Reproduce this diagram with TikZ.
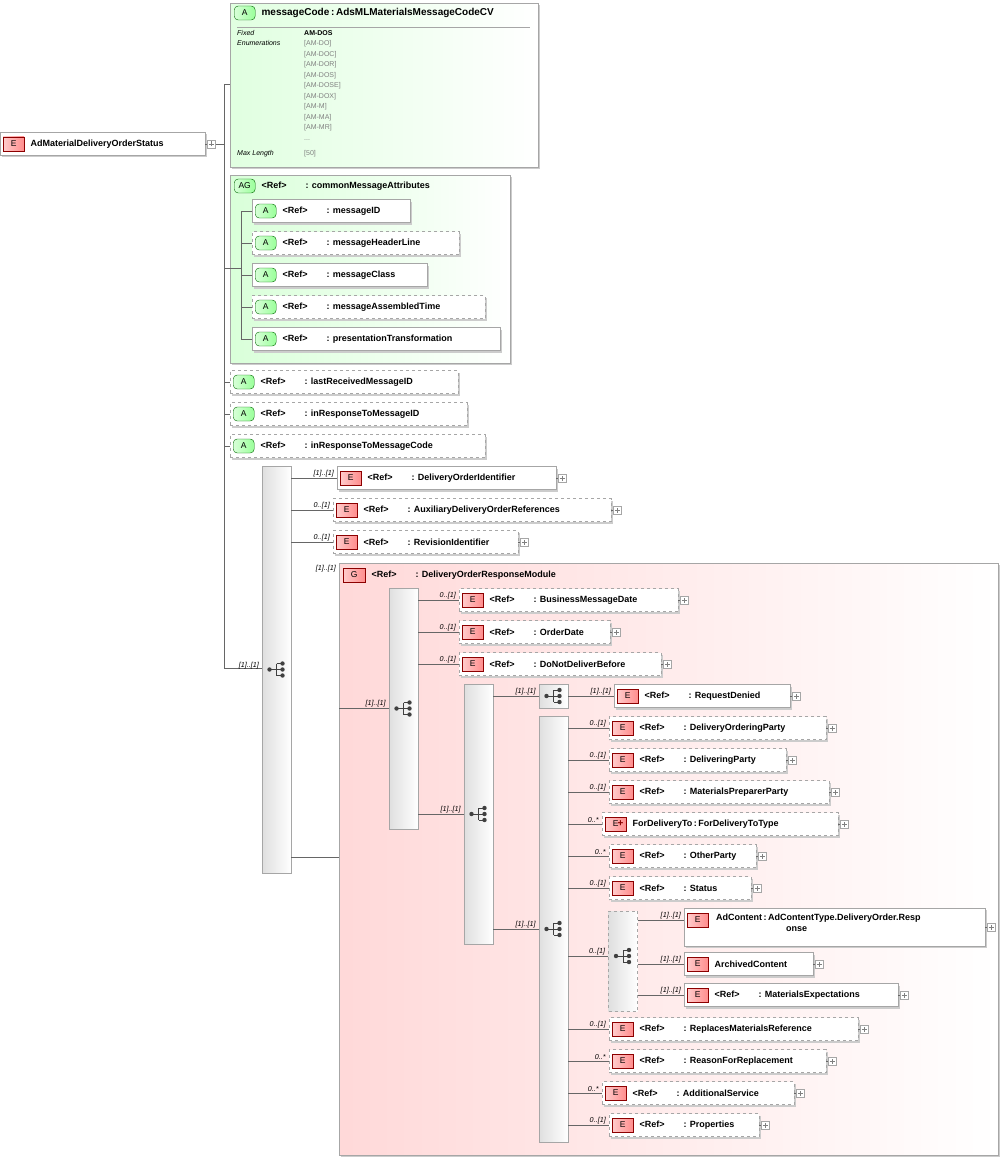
\documentclass[tikz,border=0pt]{standalone}
\usepackage{fontspec}
\setmainfont{Liberation Sans}
\usetikzlibrary{positioning,shadows}

\tikzset{
  box/.style={rectangle, draw=gray!70, fill=white, minimum height=23pt, anchor=west, inner sep=0pt,
    drop shadow={shadow xshift=2pt, shadow yshift=-2pt, fill=black!20, opacity=1}},
  opt/.style={dashed, drop shadow={shadow xshift=0pt, shadow yshift=0pt, opacity=0}},
  badgeE/.style={rectangle, draw=red!55!black, left color=red!20, right color=red!45, minimum width=21pt,
    minimum height=14pt, anchor=west, inner sep=0pt, font=\fontsize{8.5}{9}\selectfont},
  badgeA/.style={rectangle, rounded corners=4pt, draw=green!40!black, left color=green!15, right color=green!40,
    minimum width=21pt, minimum height=14pt, anchor=west, inner sep=0pt, font=\fontsize{8.5}{9}\selectfont},
  lbl/.style={anchor=west, inner sep=0pt, font=\fontsize{9}{11}\selectfont\bfseries},
  mult/.style={anchor=south east, inner sep=1pt, font=\fontsize{7.2}{8}\selectfont\itshape},
  plus/.style={rectangle, draw=gray!70, fill=white, minimum size=8pt, inner sep=0pt,
    path picture={\draw[gray] ([xshift=-2.5pt]path picture bounding box.center) -- ([xshift=2.5pt]path picture bounding box.center)
      ([yshift=-2.5pt]path picture bounding box.center) -- ([yshift=2.5pt]path picture bounding box.center);}},
  bar/.style={rectangle, draw=gray!70, left color=gray!25, right color=white, minimum width=29pt, inner sep=0pt},
  grp/.style={rectangle, draw=gray!70, inner sep=0pt, anchor=north west},
  conn/.style={draw=gray!80!black, line width=0.5pt},
  seqicon/.pic={
    \fill[black!75] (-7,0) circle (2.2);
    \draw[black!75, line width=1pt] (-7,0) -- (0,0) (0,-6) -- (0,6) (0,-6) -- (6,-6) (0,6) -- (6,6) (0,0) -- (6,0);
    \fill[black!75] (6,-6) circle (2.2) (6,0) circle (2.2) (6,6) circle (2.2);}
}

\newcommand\refnm[1]{\makebox[44pt][l]{<Ref>}: #1}
\def\badgeAname{badgeA}
% element box: name, x, y, width, extra style, badge style, text
\newcommand\elbox[7]{%
  \node[box, #5, minimum width=#4pt] (#1) at (#2,#3) {};
  \def\curbadge{#6}%
  \node[#6] (#1-b) at ([xshift=3pt]#1.west) {\ifx\curbadge\badgeAname A\else E\fi};
  \node[lbl] (#1-t) at ([xshift=6pt]#1-b.east) {#7};}
\newcommand\elplus[1]{\node[plus] (#1-p) at ([xshift=6pt]#1.east) {}; \draw[conn] (#1.east) -- (#1-p.west);}

\begin{document}
\begin{tikzpicture}[x=1pt, y=-1pt]
\useasboundingbox (0,0) rectangle (1004,1161);

% root
\elbox{root}{0}{144}{205}{}{badgeE}{AdMaterialDeliveryOrderStatus}
\elplus{root}
\coordinate (trunk) at (224,144);
\draw[conn] (root-p.east) -- (trunk);
\draw[conn] (224,84) -- (224,668);

% messageCode attribute
\node[grp, minimum width=308pt, minimum height=164pt, left color=green!12, right color=white,
  drop shadow={shadow xshift=2pt, shadow yshift=-2pt, fill=black!20, opacity=1}] (mc) at (230,3) {};
\node[badgeA] (mc-b) at (234,13) {A};
\node[lbl, font=\fontsize{10}{11}\selectfont\bfseries] (mc-t) at ([xshift=6pt]mc-b.east) {messageCode\,:\,AdsMLMaterialsMessageCodeCV};
\draw[gray!70] (237,27) -- (530,27);
\begin{scope}[every node/.style={anchor=north west, inner sep=0pt, font=\fontsize{7}{10.5}\selectfont}]
  \node[align=left, font=\fontsize{7}{10}\selectfont\itshape] (fe) at (237,30) {Fixed\\Enumerations};
  \node[align=left, text=gray] (enum) at (304,30) {\textcolor{black}{\bfseries AM-DOS}\\{}[AM-DO]\\{}[AM-DOC]\\{}[AM-DOR]\\{}[AM-DOS]\\{}[AM-DOSE]\\{}[AM-DOX]\\{}[AM-M]\\{}[AM-MA]\\{}[AM-MR]\\...};
  \node[font=\fontsize{7}{8}\selectfont\itshape] (ml) at (237,150) {Max Length};
  \node[text=gray] (mlv) at (304,150) {[50]};
\end{scope}
\draw[conn] (224,84) -- (mc.west |- 0,84);

% attribute group
\node[grp, minimum width=280pt, minimum height=188pt, left color=green!15, right color=white,
  drop shadow={shadow xshift=2pt, shadow yshift=-2pt, fill=black!20, opacity=1}] (ag) at (230,175) {};
\node[badgeA] (ag-b) at (234,186) {AG};
\node[lbl] (ag-t) at ([xshift=6pt]ag-b.east) {\refnm{commonMessageAttributes}};
\draw[conn] (224,268) -- (241,268);
\draw[conn] (241,211) -- (241,339);
\elbox{mid}{252}{211}{158}{}{badgeA}{\refnm{messageID}}
\elbox{mhl}{252}{243}{207}{opt}{badgeA}{\refnm{messageHeaderLine}}
\elbox{mcl}{252}{275}{175}{}{badgeA}{\refnm{messageClass}}
\elbox{mat}{252}{307}{233}{opt}{badgeA}{\refnm{messageAssembledTime}}
\elbox{ptr}{252}{339}{248}{}{badgeA}{\refnm{presentationTransformation}}
\foreach \n in {mid,mhl,mcl,mat,ptr} \draw[conn] (241,0 |- \n.west) -- (\n.west);

\elbox{lrm}{230}{382}{228}{opt}{badgeA}{\refnm{lastReceivedMessageID}}
\elbox{irm}{230}{414}{237}{opt}{badgeA}{\refnm{inResponseToMessageID}}
\elbox{irc}{230}{446}{255}{opt}{badgeA}{\refnm{inResponseToMessageCode}}
\foreach \n in {lrm,irm,irc} \draw[conn] (224,0 |- \n.west) -- (\n.west);

% top sequence
\node[bar, minimum height=407pt] (seqA) at (276.5,669.5) {};
\pic at (seqA) {seqicon};
\draw[conn] (224,668) -- (seqA.west |- 0,668);
\node[mult] at (260,670) {[1]..[1]};
\elbox{doi}{337}{478}{219}{}{badgeE}{\refnm{DeliveryOrderIdentifier}}
\elbox{adr}{333}{510}{278}{opt}{badgeE}{\refnm{AuxiliaryDeliveryOrderReferences}}
\elbox{rid}{333}{542}{185}{opt}{badgeE}{\refnm{RevisionIdentifier}}
\foreach \n/\m in {doi/{[1]..[1]},adr/{0..[1]},rid/{0..[1]}} {
  \draw[conn] (seqA.east |- \n.west) -- (\n.west) node[mult, pos=1, xshift=-2pt] {\m};
  \elplus{\n}}

% group
\node[grp, minimum width=659pt, minimum height=592pt, left color=red!15, right color=white,
  drop shadow={shadow xshift=2pt, shadow yshift=-2pt, fill=black!20, opacity=1}] (grpR) at (339,563) {};
\node[badgeE, minimum width=22pt] (grpR-b) at (343,575) {G};
\node[lbl] (grpR-t) at ([xshift=6pt]grpR-b.east) {\refnm{DeliveryOrderResponseModule}};
\draw[conn] (seqA.east |- 0,857) -- (grpR.west |- 0,857);
\node[mult] at (337,573) {[1]..[1]};

% second sequence
\node[bar, minimum height=241pt] (seqB) at (403.5,708.5) {};
\pic at (seqB) {seqicon};
\draw[conn] (grpR.west |- seqB.west) -- (seqB.west) node[mult, pos=1, xshift=-2pt] {[1]..[1]};
\elbox{bmd}{459}{600}{219}{opt}{badgeE}{\refnm{BusinessMessageDate}}
\elbox{odt}{459}{632}{151}{opt}{badgeE}{\refnm{OrderDate}}
\elbox{dnd}{459}{664}{202}{opt}{badgeE}{\refnm{DoNotDeliverBefore}}
\foreach \n in {bmd,odt,dnd} {
  \draw[conn] (seqB.east |- \n.west) -- (\n.west) node[mult, pos=1, xshift=-2pt] {0..[1]};
  \elplus{\n}}

% third sequence
\node[bar, minimum height=260pt] (seqC) at (478.5,814) {};
\pic at (seqC) {seqicon};
\draw[conn] (seqB.east |- seqC.west) -- (seqC.west) node[mult, pos=1, xshift=-2pt] {[1]..[1]};
\node[bar, minimum height=24pt] (seqD) at (553.5,696) {};
\pic at (seqD) {seqicon};
\draw[conn] (seqC.east |- seqD.west) -- (seqD.west) node[mult, pos=1, xshift=-2pt] {[1]..[1]};
\elbox{rdn}{614}{696}{176}{}{badgeE}{\refnm{RequestDenied}}
\draw[conn] (seqD.east) -- (rdn.west) node[mult, pos=1, xshift=-2pt] {[1]..[1]};
\elplus{rdn}

% fourth sequence
\node[bar, minimum height=426pt] (seqE) at (553.5,929) {};
\pic at (seqE) {seqicon};
\draw[conn] (seqC.east |- seqE.west) -- (seqE.west) node[mult, pos=1, xshift=-2pt] {[1]..[1]};
\elbox{dop}{609}{728}{217}{opt}{badgeE}{\refnm{DeliveryOrderingParty}}
\elbox{dlp}{609}{760}{177}{opt}{badgeE}{\refnm{DeliveringParty}}
\elbox{mpp}{609}{792}{220}{opt}{badgeE}{\refnm{MaterialsPreparerParty}}
\elbox{fdt}{602}{824}{236}{opt}{badgeE}{ForDeliveryTo\,:\,ForDeliveryToType}
\elbox{otp}{609}{856}{147}{opt}{badgeE}{\refnm{OtherParty}}
\elbox{sts}{609}{888}{142}{opt}{badgeE}{\refnm{Status}}
\elbox{rmr}{609}{1029}{249}{opt}{badgeE}{\refnm{ReplacesMaterialsReference}}
\elbox{rfr}{609}{1061}{217}{opt}{badgeE}{\refnm{ReasonForReplacement}}
\elbox{ads}{602}{1093}{192}{opt}{badgeE}{\refnm{AdditionalService}}
\elbox{prp}{609}{1125}{150}{opt}{badgeE}{\refnm{Properties}}
\node[anchor=west, inner sep=0pt, font=\fontsize{10}{10}\selectfont\bfseries, text=red!55!black] at ([xshift=-9pt]fdt-b.east) {+};
\foreach \n/\m in {dop/{0..[1]},dlp/{0..[1]},mpp/{0..[1]},fdt/{0..*},otp/{0..*},sts/{0..[1]},rmr/{0..[1]},rfr/{0..*},ads/{0..*},prp/{0..[1]}} {
  \draw[conn] (seqE.east |- \n.west) -- (\n.west) node[mult, pos=1, xshift=-2pt] {\m};
  \elplus{\n}}

% choice
\node[bar, dashed, minimum height=100pt] (chc) at (623,961) {};
\pic at (623,956) {seqicon};
\draw[conn] (seqE.east |- 0,956) -- (chc.west |- 0,956) node[mult, pos=1, xshift=-2pt] {0..[1]};
\node[box, minimum width=301pt, minimum height=38pt] (adc) at (684,927) {};
\node[badgeE] (adc-b) at (687,920) {E};
\node[lbl, anchor=north west, align=left] (adc-t) at (716,914) {AdContent\,:\,AdContentType.DeliveryOrder.Resp\\\hspace*{70pt}onse};
\elbox{arc}{684}{964}{129}{}{badgeE}{ArchivedContent}
\elbox{mex}{684}{995}{214}{}{badgeE}{\refnm{MaterialsExpectations}}
\draw[conn] (chc.east |- 0,920) -- (adc.west |- 0,920) node[mult, pos=1, xshift=-2pt] {[1]..[1]};
\foreach \n in {arc,mex} {
  \draw[conn] (chc.east |- \n.west) -- (\n.west) node[mult, pos=1, xshift=-2pt] {[1]..[1]};
  \elplus{\n}}
\elplus{adc}
\end{tikzpicture}
\end{document}
